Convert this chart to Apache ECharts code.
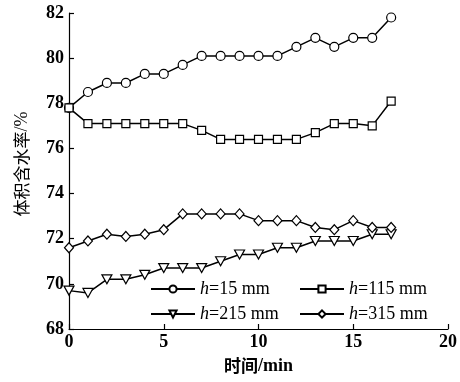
<!DOCTYPE html>
<html>
<head>
<meta charset="utf-8">
<script src="https://cdn.jsdelivr.net/npm/echarts@6/dist/echarts.min.js"></script>
<style>
  html, body { margin: 0; padding: 0; background: #fff; }
  #chart { width: 460px; height: 382px; }
</style>
</head>
<body>
<div id="chart"></div>
<script>
// Time (min) at each measurement
const times = [0, 1, 2, 3, 4, 5, 6, 7, 8, 9, 10, 11, 12, 13, 14, 15, 16, 17];

// Volumetric water content (%) at each depth
const h15  = [77.8, 78.5, 78.9, 78.9, 79.3, 79.3, 79.7, 80.1, 80.1, 80.1, 80.1, 80.1, 80.5, 80.9, 80.5, 80.9, 80.9, 81.8];
const h115 = [77.8, 77.1, 77.1, 77.1, 77.1, 77.1, 77.1, 76.8, 76.4, 76.4, 76.4, 76.4, 76.4, 76.7, 77.1, 77.1, 77.0, 78.1];
const h215 = [69.7, 69.6, 70.2, 70.2, 70.4, 70.7, 70.7, 70.7, 71.0, 71.3, 71.3, 71.6, 71.6, 71.9, 71.9, 71.9, 72.2, 72.2];
const h315 = [71.6, 71.9, 72.2, 72.1, 72.2, 72.4, 73.1, 73.1, 73.1, 73.1, 72.8, 72.8, 72.8, 72.5, 72.4, 72.8, 72.5, 72.5];

const seriesNames = ['h=15 mm', 'h=115 mm', 'h=215 mm', 'h=315 mm'];
const xTicks = [0, 5, 10, 15, 20];
const yTicks = [68, 70, 72, 74, 76, 78, 80, 82];

const serif = '"Liberation Serif", "Times New Roman", serif';
const cjk = '"Noto Sans CJK SC", sans-serif';

function pairs(ys) { return times.map((t, i) => [t, ys[i]]); }

function makeSeries(name, ys, symbol, size, rotate) {
  return {
    name: name,
    type: 'line',
    data: pairs(ys),
    symbol: symbol,
    symbolSize: size,
    symbolRotate: rotate || 0,
    showAllSymbol: true,
    lineStyle: { color: '#000', width: 1.5 },
    itemStyle: { color: '#fff', borderColor: '#000', borderWidth: 1.2 },
    emphasis: { disabled: true },
    animation: false
  };
}

function makeLegend(name, left, top) {
  return {
    data: [name],
    left: left,
    top: top,
    padding: 0,
    itemWidth: 44,
    itemHeight: 9,
    itemGap: 6,
    selectedMode: false,
    formatter: n => '{i|h}{t|' + n.slice(1) + '}',
    textStyle: {
      color: '#000',
      rich: {
        i: { fontFamily: serif, fontStyle: 'italic', fontSize: 18, color: '#000' },
        t: { fontFamily: serif, fontSize: 18, color: '#000' }
      }
    }
  };
}

const chart = echarts.init(document.getElementById('chart'), null, { renderer: 'canvas' });

chart.setOption({
  backgroundColor: '#fff',
  animation: false,
  grid: { left: 69, right: 12, top: 13, bottom: 53 },
  legend: [
    makeLegend(seriesNames[0], 150, 280),
    makeLegend(seriesNames[1], 299, 280),
    makeLegend(seriesNames[2], 150, 305),
    makeLegend(seriesNames[3], 299, 305)
  ],
  xAxis: {
    type: 'value',
    min: xTicks[0],
    max: xTicks[xTicks.length - 1],
    interval: 5,
    name: '{c|时间}{s|/min}',
    nameLocation: 'middle',
    nameGap: 28,
    nameTextStyle: {
      color: '#000',
      rich: {
        c: { fontFamily: cjk, fontWeight: 'bold', fontSize: 17, color: '#000' },
        s: { fontFamily: serif, fontWeight: 'bold', fontSize: 18, color: '#000' }
      }
    },
    axisLine: { lineStyle: { color: '#000', width: 1.2 } },
    axisTick: { inside: true, length: 5, lineStyle: { color: '#000', width: 1.2 } },
    axisLabel: { fontFamily: serif, fontWeight: 'bold', fontSize: 18, color: '#000', margin: 4 },
    splitLine: { show: false }
  },
  yAxis: {
    type: 'value',
    min: yTicks[0],
    max: yTicks[yTicks.length - 1],
    interval: 2,
    name: '{c|体积含水率}{s|/%}',
    nameLocation: 'middle',
    nameGap: 38,
    nameTextStyle: {
      color: '#000',
      padding: [0, 0, 0, 14],
      rich: {
        c: { fontFamily: cjk, fontWeight: 'normal', fontSize: 17, color: '#000' },
        s: { fontFamily: serif, fontWeight: 'normal', fontSize: 18, color: '#000' }
      }
    },
    axisLine: { show: true, lineStyle: { color: '#000', width: 1.2 } },
    axisTick: { show: true, inside: true, length: 5, lineStyle: { color: '#000', width: 1.2 } },
    axisLabel: { fontFamily: serif, fontWeight: 'bold', fontSize: 18, color: '#000', margin: 5 },
    splitLine: { show: false }
  },
  series: [
    makeSeries(seriesNames[0], h15, 'circle', 9),
    makeSeries(seriesNames[1], h115, 'rect', 8),
    makeSeries(seriesNames[2], h215, 'triangle', [10, 9], 180),
    makeSeries(seriesNames[3], h315, 'diamond', [9, 10])
  ]
});
</script>
</body>
</html>
